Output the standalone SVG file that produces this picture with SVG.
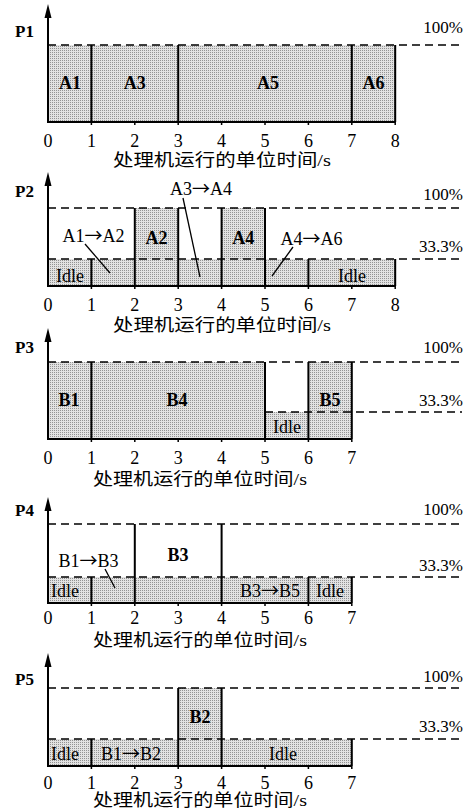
<svg xmlns="http://www.w3.org/2000/svg" width="476" height="812" viewBox="0 0 476 812">
<style>
text{font-family:"Liberation Serif","Noto Sans CJK SC",serif;fill:#000}
.ar{font-family:"Noto Sans CJK SC",sans-serif}
.pl{font-size:17px;font-weight:bold}
.pc{font-size:17px;text-anchor:end}
.tk{font-size:18px;font-weight:bold;text-anchor:middle}
.lb{font-size:18px;text-anchor:middle}
.dg{font-size:18px;text-anchor:middle}
.ti{font-size:17px;text-anchor:middle}
.sh{fill:url(#dots);stroke:none}
.dash{stroke:#000;stroke-width:1.6;stroke-dasharray:8,5;fill:none}
.v{stroke:#000;stroke-width:2;fill:none}
.ax{stroke:#000;stroke-width:2;fill:none}
.ld{stroke:#000;stroke-width:1.3;fill:none}
.tick{stroke:#000;stroke-width:1.5}
</style>
<defs>
<pattern id="dots" width="2" height="2" patternUnits="userSpaceOnUse">
<rect width="2" height="2" fill="#e2e2e2"/>
<rect width="1" height="1" fill="#939393"/>
</pattern>
<path id="arr" d="M0,0 L-3.5,14 L3.5,14 Z" fill="#000"/>
<g id="ticks7">
<path class="tick" d="M91.4,0v3M134.8,0v3M178.2,0v3M221.6,0v3M265,0v3M308.4,0v3M351.8,0v3"/>
</g>
<g id="ticks8">
<use href="#ticks7"/>
<path class="tick" d="M395.2,0v3"/>
</g>
<g id="digits7">
<text class="dg" x="48" y="0">0</text><text class="dg" x="91.4" y="0">1</text><text class="dg" x="134.8" y="0">2</text><text class="dg" x="178.2" y="0">3</text><text class="dg" x="221.6" y="0">4</text><text class="dg" x="265" y="0">5</text><text class="dg" x="308.4" y="0">6</text><text class="dg" x="351.8" y="0">7</text>
</g>
<g id="digits8">
<use href="#digits7"/>
<text class="dg" x="395.2" y="0">8</text>
</g>
</defs>
<rect width="476" height="812" fill="#fff"/>

<!-- Panel P1 -->
<g id="panel-P1">
<rect class="sh" x="48" y="45" width="347.2" height="77"/>
<path class="dash" d="M48,45H462"/>
<path class="v" d="M91.4,45V122M178.2,45V122M351.8,45V122M395.2,45V122"/>
<path class="ax" d="M48,12V122H395.2"/>
<use href="#arr" x="48" y="4"/>
<use href="#ticks8" y="122"/>
<text class="pl" x="15" y="37">P1</text>
<text class="pc" x="463" y="33">100%</text>
<text class="tk" x="70" y="89">A1</text>
<text class="tk" x="134.8" y="89">A3</text>
<text class="tk" x="268" y="89">A5</text>
<text class="tk" x="373.5" y="89">A6</text>
<use href="#digits8" y="147"/>
<text class="ti" x="222" y="166" textLength="218" lengthAdjust="spacingAndGlyphs">处理机运行的单位时间/s</text>
</g>

<!-- Panel P2 -->
<g id="panel-P2">
<rect class="sh" x="48" y="259" width="347.2" height="27"/>
<rect class="sh" x="134.8" y="208" width="43.4" height="51"/>
<rect class="sh" x="221.6" y="208" width="43.4" height="51"/>
<path class="dash" d="M48,208H462M48,259H462"/>
<path class="v" d="M91.4,259V286M134.8,208V286M178.2,208V286M221.6,208V286M265,208V286M308.4,259V286M395.2,259V286"/>
<path class="ax" d="M48,180V286H395.2"/>
<use href="#arr" x="48" y="172"/>
<use href="#ticks8" y="286"/>
<text class="pl" x="15" y="197">P2</text>
<text class="pc" x="463" y="200">100%</text>
<text class="pc" x="463" y="252">33.3%</text>
<g id="lbl-A3A4"><text class="lb" x="201" y="195">A3<tspan class="ar">→</tspan>A4</text><path class="ld" d="M183,198L200,277"/></g>
<g id="lbl-A1A2"><text class="lb" x="93.5" y="242">A1<tspan class="ar">→</tspan>A2</text><path class="ld" d="M85,244L110,273"/></g>
<g id="lbl-A4A6"><text class="lb" x="311.5" y="245">A4<tspan class="ar">→</tspan>A6</text><path class="ld" d="M293,247L272,276"/></g>
<text class="tk" x="156.5" y="244">A2</text>
<text class="tk" x="243.3" y="244">A4</text>
<text class="lb" x="70" y="282">Idle</text>
<text class="lb" x="352" y="282">Idle</text>
<use href="#digits8" y="311"/>
<text class="ti" x="222" y="331" textLength="218" lengthAdjust="spacingAndGlyphs">处理机运行的单位时间/s</text>
</g>

<!-- Panel P3 -->
<g id="panel-P3">
<rect class="sh" x="48" y="362" width="217" height="77"/>
<rect class="sh" x="265" y="412" width="43.4" height="27"/>
<rect class="sh" x="308.4" y="362" width="43.4" height="77"/>
<path class="dash" d="M48,362H462M265,412H462"/>
<path class="v" d="M91.4,362V439M265,362V439M308.4,362V439M351.8,362V439"/>
<path class="ax" d="M48,336V439H351.8"/>
<use href="#arr" x="48" y="328"/>
<use href="#ticks7" y="439"/>
<text class="pl" x="15" y="353">P3</text>
<text class="pc" x="463" y="353">100%</text>
<text class="pc" x="463" y="406">33.3%</text>
<text class="tk" x="69" y="406">B1</text>
<text class="tk" x="177" y="406">B4</text>
<text class="tk" x="330" y="406">B5</text>
<text class="lb" x="287" y="433">Idle</text>
<use href="#digits7" y="464"/>
<text class="ti" x="200" y="485" textLength="214" lengthAdjust="spacingAndGlyphs">处理机运行的单位时间/s</text>
</g>

<!-- Panel P4 -->
<g id="panel-P4">
<rect class="sh" x="48" y="577" width="303.8" height="26"/>
<path class="dash" d="M48,524H462M48,577H462"/>
<path class="v" d="M91.4,577V603M134.8,524V603M221.6,524V603M308.4,577V603M351.8,577V603"/>
<path class="ax" d="M48,505V603H351.8"/>
<use href="#arr" x="48" y="497"/>
<use href="#ticks7" y="603"/>
<text class="pl" x="15" y="516">P4</text>
<text class="pc" x="463" y="515">100%</text>
<text class="pc" x="463" y="571">33.3%</text>
<g id="lbl-B1B3"><text class="lb" x="88.5" y="567">B1<tspan class="ar">→</tspan>B3</text><path class="ld" d="M105,569L115,588"/></g>
<text class="tk" x="178" y="561">B3</text>
<text class="lb" x="65" y="597">Idle</text>
<text class="lb" x="270" y="597">B3<tspan class="ar">→</tspan>B5</text>
<text class="lb" x="330" y="597">Idle</text>
<use href="#digits7" y="624"/>
<text class="ti" x="200" y="646" textLength="214" lengthAdjust="spacingAndGlyphs">处理机运行的单位时间/s</text>
</g>

<!-- Panel P5 -->
<g id="panel-P5">
<rect class="sh" x="48" y="739" width="303.8" height="27"/>
<rect class="sh" x="178.2" y="688" width="43.4" height="51"/>
<path class="dash" d="M48,688H462M48,739H462"/>
<path class="v" d="M91.4,739V766M178.2,688V766M221.6,688V766M351.8,739V766"/>
<path class="ax" d="M48,661V766H351.8"/>
<use href="#arr" x="48" y="653"/>
<use href="#ticks7" y="766"/>
<text class="pl" x="15" y="685">P5</text>
<text class="pc" x="463" y="682">100%</text>
<text class="pc" x="463" y="732">33.3%</text>
<text class="lb" x="65" y="760">Idle</text>
<text class="lb" x="131" y="760">B1<tspan class="ar">→</tspan>B2</text>
<text class="tk" x="200" y="723">B2</text>
<text class="lb" x="283" y="760">Idle</text>
<use href="#digits7" y="789"/>
<text class="ti" x="200" y="806" textLength="214" lengthAdjust="spacingAndGlyphs">处理机运行的单位时间/s</text>
</g>
</svg>
